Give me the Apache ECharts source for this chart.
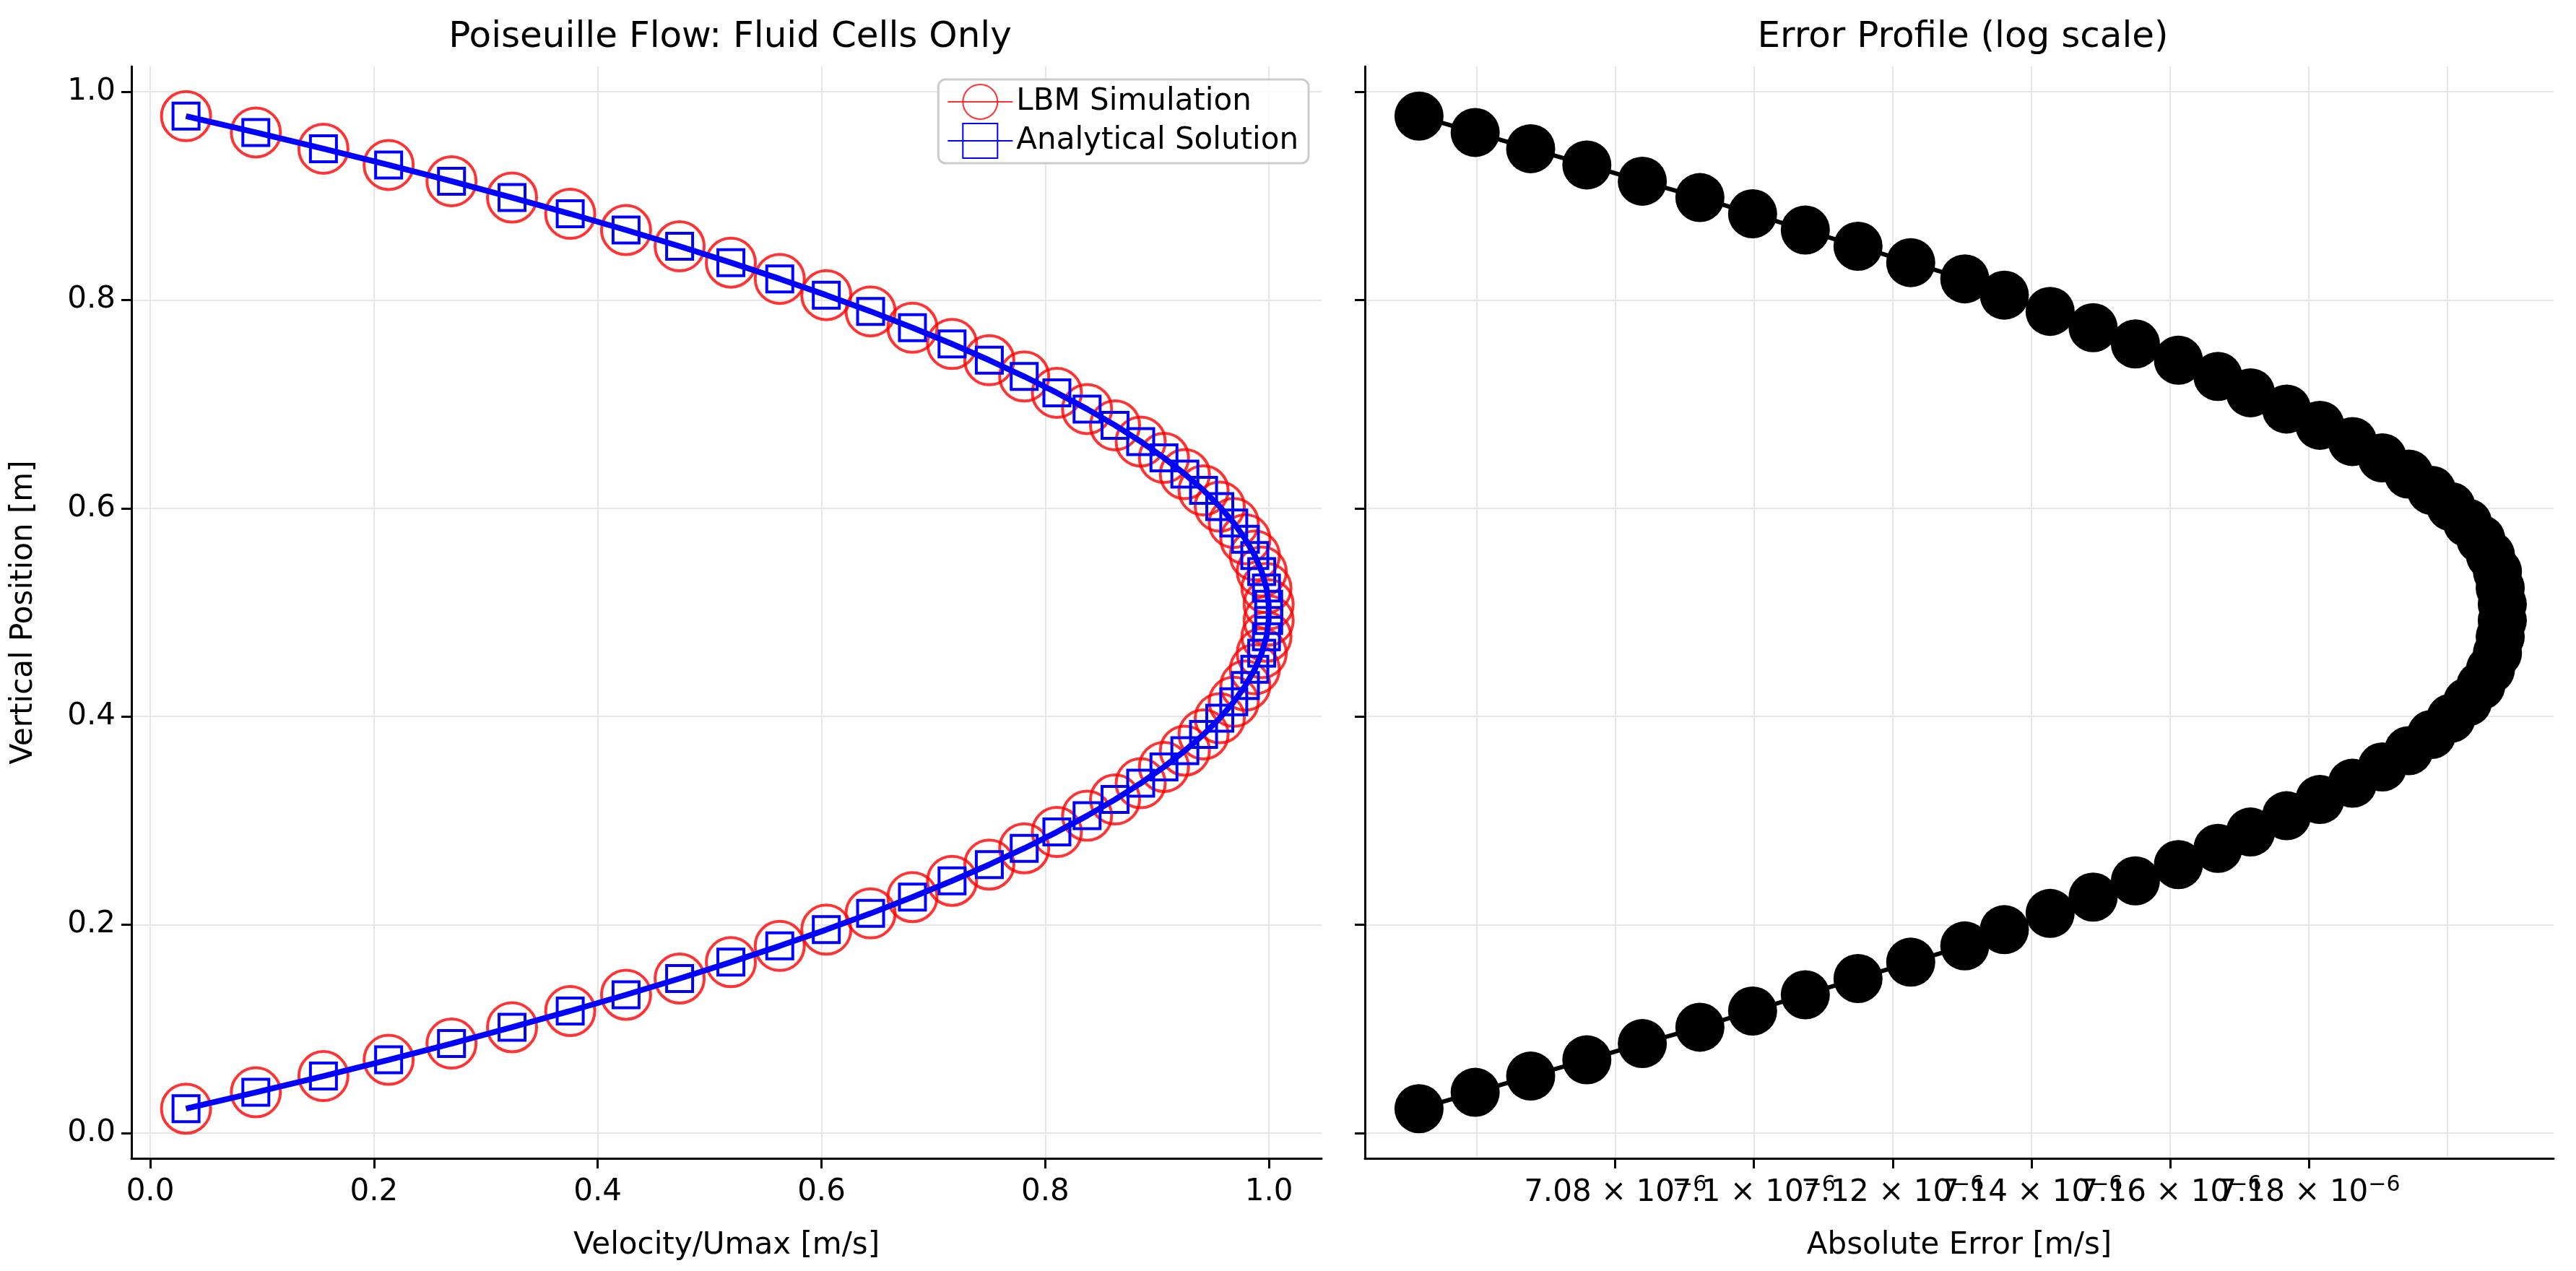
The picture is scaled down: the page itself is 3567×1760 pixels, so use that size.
<!DOCTYPE html>
<html>
<head>
<meta charset="utf-8">
<script src="https://cdn.jsdelivr.net/npm/echarts@6/dist/echarts.min.js"></script>
<style>
  html, body { margin: 0; padding: 0; background: #fff; }
  #chart { width: 3567px; height: 1760px; }
</style>
</head>
<body>
<div id="chart"></div>
<script>
// vertical positions of the fluid cells [m]
var positions = [
    0.0234, 0.0391, 0.0547, 0.0703, 0.0859, 0.1016, 0.1172, 0.1328, 0.1484, 0.1641,
    0.1797, 0.1953, 0.2109, 0.2266, 0.2422, 0.2578, 0.2734, 0.2891, 0.3047, 0.3203,
    0.3359, 0.3516, 0.3672, 0.3828, 0.3984, 0.4141, 0.4297, 0.4453, 0.4609, 0.4766,
    0.4922, 0.5078, 0.5234, 0.5391, 0.5547, 0.5703, 0.5859, 0.6016, 0.6172, 0.6328,
    0.6484, 0.6641, 0.6797, 0.6953, 0.7109, 0.7266, 0.7422, 0.7578, 0.7734, 0.7891,
    0.8047, 0.8203, 0.8359, 0.8516, 0.8672, 0.8828, 0.8984, 0.9141, 0.9297, 0.9453,
    0.9609, 0.9766
];

// LBM velocity / Umax
var velocityLbm = [
    0.0320, 0.0944, 0.1548, 0.2131, 0.2693, 0.3234, 0.3754, 0.4253, 0.4732, 0.5190,
    0.5627, 0.6043, 0.6439, 0.6813, 0.7167, 0.7500, 0.7812, 0.8104, 0.8374, 0.8624,
    0.8853, 0.9061, 0.9248, 0.9415, 0.9560, 0.9685, 0.9789, 0.9873, 0.9935, 0.9977,
    0.9997, 0.9997, 0.9977, 0.9935, 0.9873, 0.9789, 0.9685, 0.9560, 0.9415, 0.9248,
    0.9061, 0.8853, 0.8624, 0.8374, 0.8104, 0.7812, 0.7500, 0.7167, 0.6813, 0.6439,
    0.6043, 0.5627, 0.5190, 0.4732, 0.4253, 0.3754, 0.3234, 0.2693, 0.2131, 0.1548,
    0.0944, 0.0320
];

// analytical velocity / Umax
var velocityAnalytical = [
    0.0320, 0.0944, 0.1548, 0.2131, 0.2693, 0.3234, 0.3754, 0.4253, 0.4732, 0.5190,
    0.5627, 0.6043, 0.6439, 0.6813, 0.7167, 0.7500, 0.7812, 0.8104, 0.8374, 0.8624,
    0.8853, 0.9061, 0.9248, 0.9415, 0.9560, 0.9685, 0.9789, 0.9873, 0.9935, 0.9977,
    0.9997, 0.9997, 0.9977, 0.9935, 0.9873, 0.9789, 0.9685, 0.9560, 0.9415, 0.9248,
    0.9061, 0.8853, 0.8624, 0.8374, 0.8104, 0.7812, 0.7500, 0.7167, 0.6813, 0.6439,
    0.6043, 0.5627, 0.5190, 0.4732, 0.4253, 0.3754, 0.3234, 0.2693, 0.2131, 0.1548,
    0.0944, 0.0320
];

// absolute error, in units of 1e-6 m/s
var absError = [
    7.0517, 7.0598, 7.0678, 7.0759, 7.0839, 7.0922, 7.0998, 7.1074, 7.1150, 7.1226,
    7.1304, 7.1361, 7.1427, 7.1489, 7.1550, 7.1612, 7.1669, 7.1716, 7.1768, 7.1816,
    7.1863, 7.1906, 7.1944, 7.1977, 7.2005, 7.2029, 7.2048, 7.2062, 7.2072, 7.2076,
    7.2079, 7.2079, 7.2076, 7.2072, 7.2062, 7.2048, 7.2029, 7.2005, 7.1977, 7.1944,
    7.1906, 7.1863, 7.1816, 7.1768, 7.1716, 7.1669, 7.1612, 7.1550, 7.1489, 7.1427,
    7.1361, 7.1304, 7.1226, 7.1150, 7.1074, 7.0998, 7.0922, 7.0839, 7.0759, 7.0678,
    7.0598, 7.0517
];

var velocityTicks = [0, 0.2, 0.4, 0.6, 0.8, 1.0];
var positionTicks = [0, 0.2, 0.4, 0.6, 0.8, 1.0];
var errorTicks = [7.06, 7.08, 7.10, 7.12, 7.14, 7.16, 7.18, 7.20];

(function () {
    var chart = echarts.init(document.getElementById('chart'));
    var font = 'DejaVu Sans';

    function pairs(xs) {
        return xs.map(function (x, i) { return [x, positions[i]]; });
    }

    function axisCommon(ticks) {
        return {
            axisLine: { show: true, onZero: false, lineStyle: { color: '#000', width: 3 } },
            axisTick: { show: true, length: 14, customValues: ticks, lineStyle: { color: '#000', width: 3 } },
            splitLine: { show: true, lineStyle: { color: '#e6e6e6', width: 2 } }
        };
    }

    var leftX = axisCommon(velocityTicks);
    var rightX = axisCommon(errorTicks);
    var leftY = axisCommon(positionTicks);
    var rightY = axisCommon(positionTicks);

    var option = {
        backgroundColor: '#fff',
        animation: false,
        textStyle: { fontFamily: font },
        title: [
            { text: 'Poiseuille Flow: Fluid Cells Only', left: 1006, top: 22, textAlign: 'center',
              textStyle: { fontFamily: font, fontSize: 50, fontWeight: 'normal', color: '#000' } },
            { text: 'Error Profile (log scale)', left: 2713, top: 22, textAlign: 'center',
              textStyle: { fontFamily: font, fontSize: 50, fontWeight: 'normal', color: '#000' } }
        ],
        legend: {
            data: ['LBM Simulation', 'Analytical Solution'],
            orient: 'vertical',
            right: 3567 - 1812,
            top: 110,
            itemWidth: 90,
            itemHeight: 60,
            itemGap: 4,
            padding: [6, 14, 6, 12],
            backgroundColor: 'rgba(255,255,255,0.85)',
            borderColor: '#cccccc',
            borderWidth: 3,
            borderRadius: 10,
            textStyle: { fontFamily: font, fontSize: 42, color: '#000' }
        },
        grid: [
            { left: 182, right: 3567 - 1830, top: 92, bottom: 1760 - 1604 },
            { left: 1890, right: 3567 - 3536, top: 92, bottom: 1760 - 1604 }
        ],
        xAxis: [
            Object.assign(leftX, {
                type: 'value', gridIndex: 0, min: -0.0168, max: 1.047,
                name: 'Velocity/Umax [m/s]', nameLocation: 'middle', nameGap: 100,
                nameTextStyle: { fontFamily: font, fontSize: 42, color: '#000' },
                axisLabel: { customValues: velocityTicks, fontSize: 42, color: '#000', margin: 26,
                    formatter: function (v) { return v.toFixed(1); } }
            }),
            Object.assign(rightX, {
                type: 'value', gridIndex: 1, min: 7.0439, max: 7.2153,
                name: 'Absolute Error [m/s]', nameLocation: 'middle', nameGap: 100,
                nameTextStyle: { fontFamily: font, fontSize: 42, color: '#000' },
                axisLabel: { customValues: errorTicks, fontSize: 42, color: '#000', margin: 22,
                    formatter: function (v) {
                        var s = (Math.round(v * 100) / 100).toString();
                        return '{n|' + s + ' × 10}{s|−6}';
                    },
                    rich: {
                        n: { fontFamily: font, fontSize: 42, color: '#000' },
                        s: { fontFamily: font, fontSize: 30, color: '#000', verticalAlign: 'top', padding: [0, 0, 22, 0] }
                    } }
            })
        ],
        yAxis: [
            Object.assign(leftY, {
                type: 'value', gridIndex: 0, min: -0.0243, max: 1.0243,
                name: 'Vertical Position [m]', nameLocation: 'middle', nameGap: 128,
                nameTextStyle: { fontFamily: font, fontSize: 42, color: '#000' },
                axisLabel: { customValues: positionTicks, fontSize: 42, color: '#000', margin: 22,
                    formatter: function (v) { return v.toFixed(1); } }
            }),
            Object.assign(rightY, {
                type: 'value', gridIndex: 1, min: -0.0243, max: 1.0243,
                axisLabel: { show: false }
            })
        ],
        series: [
            {
                name: 'LBM Simulation',
                type: 'line',
                xAxisIndex: 0, yAxisIndex: 0,
                data: pairs(velocityLbm),
                symbol: 'circle',
                symbolSize: 68,
                lineStyle: { color: 'rgba(255,0,0,0.8)', width: 6 },
                itemStyle: { color: 'rgba(255,255,255,0)', borderColor: 'rgba(255,0,0,0.8)', borderWidth: 4 },
                z: 2
            },
            {
                name: 'Analytical Solution',
                type: 'line',
                xAxisIndex: 0, yAxisIndex: 0,
                data: pairs(velocityAnalytical),
                symbol: 'rect',
                symbolSize: 36,
                lineStyle: { color: '#0000ff', width: 8 },
                itemStyle: { color: 'rgba(255,255,255,0)', borderColor: '#0000ff', borderWidth: 4 },
                z: 3
            },
            {
                name: 'Absolute Error',
                type: 'line',
                xAxisIndex: 1, yAxisIndex: 1,
                data: pairs(absError),
                symbol: 'circle',
                symbolSize: 68,
                lineStyle: { color: '#000', width: 6 },
                itemStyle: { color: '#000' }
            }
        ]
    };

    chart.setOption(option);
})();
</script>
</body>
</html>
